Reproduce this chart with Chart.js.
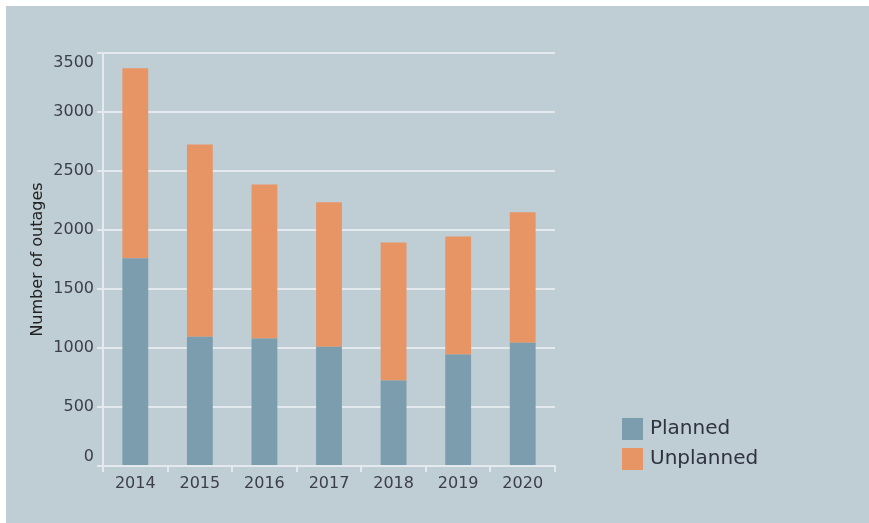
<!DOCTYPE html>
<html>
<head>
<meta charset="utf-8">
<title>Number of outages</title>
<script src="https://cdn.jsdelivr.net/npm/chart.js@4/dist/chart.umd.min.js"></script>
<style>
    html, body { margin: 0; padding: 0; background: #fff; }
    canvas { display: block; }
</style>
</head>
<body>
<canvas id="outageChart" width="869" height="523"></canvas>
<script>
const years = ['2014', '2015', '2016', '2017', '2018', '2019', '2020'];
const planned = [1760, 1095, 1080, 1010, 725, 945, 1045];
const unplanned = [1610, 1630, 1305, 1225, 1170, 1000, 1105];
const yMax = 3500;
const yStep = 500;

const panelColor = '#bfcdd4';
const gridColor = '#e3e9ec';
const tickColor = '#3c3f47';

// grey-blue panel behind everything, with a thin white margin top and left
const panelBackground = {
    id: 'panelBackground',
    beforeDraw(chart) {
        const ctx = chart.ctx;
        ctx.save();
        ctx.fillStyle = '#ffffff';
        ctx.fillRect(0, 0, chart.width, chart.height);
        ctx.fillStyle = panelColor;
        ctx.fillRect(6, 6, chart.width - 6, chart.height - 6);
        ctx.restore();
    }
};

// legend sits low on the right, away from the plot
const sideLegend = {
    id: 'sideLegend',
    afterDraw(chart) {
        const ctx = chart.ctx;
        const x = 622;
        let y = 418;
        ctx.save();
        ctx.font = '20px "DejaVu Sans"';
        ctx.textBaseline = 'middle';
        chart.data.datasets.forEach(ds => {
            ctx.fillStyle = ds.backgroundColor;
            ctx.fillRect(x, y, 21, 22);
            ctx.fillStyle = '#2f3340';
            ctx.fillText(ds.label, x + 28, y + 11);
            y += 30;
        });
        ctx.restore();
    }
};

// end labels are nudged inwards so they stay inside the plot height
function yTickLabel(value) {
    if (value === yMax) return ['', String(value)];
    if (value === 0) return [String(value), ''];
    return String(value);
}

const ctx = document.getElementById('outageChart').getContext('2d');
new Chart(ctx, {
    type: 'bar',
    data: {
        labels: years,
        datasets: [
            {
                label: 'Planned',
                data: planned,
                backgroundColor: '#7b9dad',
                barPercentage: 0.4,
                categoryPercentage: 1.0
            },
            {
                label: 'Unplanned',
                data: unplanned,
                backgroundColor: '#e89566',
                barPercentage: 0.4,
                categoryPercentage: 1.0
            }
        ]
    },
    options: {
        responsive: false,
        animation: false,
        layout: {
            padding: { left: 28, top: 53, right: 314, bottom: 22 }
        },
        plugins: {
            legend: { display: false },
            tooltip: { enabled: false }
        },
        scales: {
            x: {
                stacked: true,
                afterFit: scale => { scale.height = 35; },
                grid: {
                    offset: true,
                    drawOnChartArea: false,
                    drawTicks: true,
                    tickLength: 6,
                    color: gridColor,
                    lineWidth: 2
                },
                border: { color: gridColor, width: 2 },
                ticks: {
                    color: tickColor,
                    padding: 2,
                    font: { family: 'DejaVu Sans', size: 16 }
                }
            },
            y: {
                stacked: true,
                min: 0,
                max: yMax,
                afterFit: scale => { scale.width = 75; },
                grid: {
                    color: gridColor,
                    lineWidth: 2,
                    tickLength: 6
                },
                border: { color: gridColor, width: 2 },
                ticks: {
                    stepSize: yStep,
                    color: tickColor,
                    padding: 3,
                    font: { family: 'DejaVu Sans', size: 16 },
                    callback: yTickLabel
                },
                title: {
                    display: true,
                    text: 'Number of outages',
                    color: '#222222',
                    padding: { top: 0, bottom: 0 },
                    font: { family: 'DejaVu Sans', size: 16 }
                }
            }
        }
    },
    plugins: [panelBackground, sideLegend]
});
</script>
</body>
</html>
